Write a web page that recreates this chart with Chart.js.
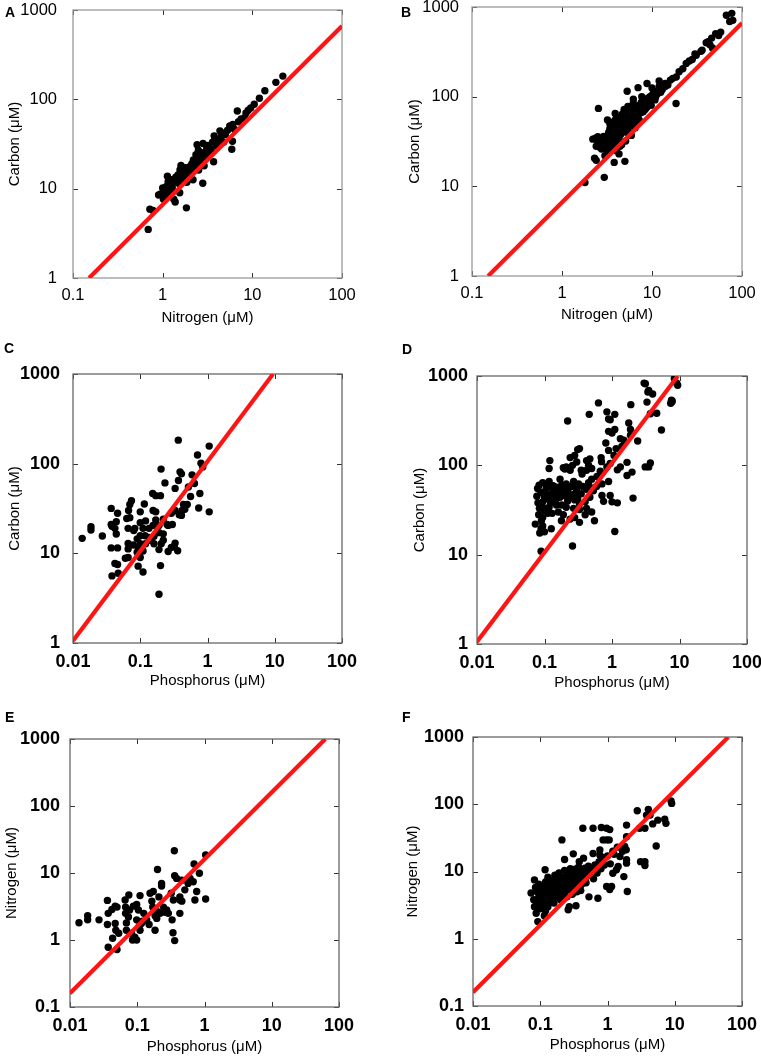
<!DOCTYPE html>
<html>
<head>
<meta charset="utf-8">
<script src="https://cdn.jsdelivr.net/npm/chart.js@4.4.1/dist/chart.umd.min.js"></script>
<style>
  html, body { margin: 0; padding: 0; background: #fff; }
  #page { position: relative; width: 761px; height: 1057px; overflow: hidden; font-family: "Liberation Sans", Arial, sans-serif; }
  canvas { position: absolute; }
  .tag { position: absolute; font-weight: bold; font-size: 14px; line-height: 14px; color: #000; }
</style>
</head>
<body>
<div id="page">
  <canvas id="pA" width="380" height="340" style="left:0;top:0"></canvas>
  <canvas id="pB" width="381" height="340" style="left:380px;top:0"></canvas>
  <canvas id="pC" width="380" height="360" style="left:0;top:340px"></canvas>
  <canvas id="pD" width="381" height="360" style="left:380px;top:340px"></canvas>
  <canvas id="pE" width="380" height="357" style="left:0;top:700px"></canvas>
  <canvas id="pF" width="381" height="357" style="left:380px;top:700px"></canvas>
  <div class="tag" style="left:5px;top:5px">A</div>
  <div class="tag" style="left:401px;top:5px">B</div>
  <div class="tag" style="left:4px;top:341px">C</div>
  <div class="tag" style="left:402px;top:342px">D</div>
  <div class="tag" style="left:5px;top:710px">E</div>
  <div class="tag" style="left:402px;top:710px">F</div>
</div>
<script>
// Tick values (decades)
const ticksN01 = [0.1, 1, 10, 100];
const ticksC1 = [1, 10, 100, 1000];
const ticksP001 = [0.01, 0.1, 1, 10, 100];
const ticksN0_1 = [0.1, 1, 10, 100, 1000];

// Redfield lines (C:N = 6.6, C:P = 106, N:P = 16)
const lineCN_x = [0.151, 100];
const lineCN_y = [1, 662];
const lineCP_x = [0.01, 9.43];
const lineCP_y = [1.06, 1000];
const lineNP_x = [0.01, 62.5];
const lineNP_y = [0.16, 1000];

// Panel A : Nitrogen vs Carbon
const aN = [0.69,0.72,0.78,0.90,0.95,1.00,1.02,1.05,1.08,1.10,1.13,1.15,1.18,1.20,1.25,1.28,1.33,1.38,1.40,1.42,
  1.48,1.52,1.55,1.56,1.60,1.62,1.65,1.70,1.72,1.76,1.80,1.84,1.86,1.90,1.95,2.00,2.02,2.08,2.12,2.18,
  2.20,2.25,2.30,2.35,2.38,2.42,2.45,2.50,2.52,2.58,2.62,2.70,2.72,2.80,2.82,2.90,2.92,3.00,3.10,3.20,
  3.30,3.40,3.50,3.60,3.70,3.75,3.82,4.00,4.05,4.20,4.35,4.50,4.60,4.80,5.00,5.30,5.60,5.90,6.00,6.05,
  6.30,6.80,7.00,7.50,8.20,8.50,9.00,9.60,10.5,12.0,13.8,18.3,21.9,1.30,1.45,1.68,2.15,1.22,2.65,3.05];
const aC = [3.5,5.9,5.7,8.5,8.7,10.2,7.6,9.4,8.2,10.6,13.8,12.0,9.8,11.2,12.6,10.3,7.6,7.1,13.4,11.8,
  14.2,11.4,9.0,16.2,18.2,13.2,15.0,12.2,16.5,14.4,17.2,6.1,11.8,13.0,16.0,17.6,14.0,15.2,19.0,12.6,
  21.0,16.8,18.2,24.0,20.4,31.0,22.2,27.0,16.2,20.0,23.4,25.2,21.2,11.5,32.0,18.0,25.0,22.4,28.2,30.4,
  24.2,28.0,26.2,33.2,20.0,39.0,36.2,30.2,32.4,35.2,44.4,38.2,42.0,33.2,40.4,45.2,50.2,27.6,34.0,52.4,
  46.2,74.0,56.2,60.4,62.2,70.2,75.4,80.2,88.2,103,125,155,182,12.1,12.9,15.6,16.5,9.2,19.0,26.0];

// Panel B : Nitrogen vs Carbon
const bN = [1.8,2.95,2.54,5.3,6.2,2.3,2.4,2.2,2.5,2.35,2.6,2.75,3.2,3.4,3.8,4.3,5.0,5.9,6.9,7.0,
  8.8,18.5,16,18.6,20,24,26,30,31,42,46,51,58,47,67,77,79,73,44,36,
  28,22,12,14,10,9.5,11,13,15,17,35,40,55,9,3.0,2.9,
  3.0,3.1,3.2,3.3,3.3,3.4,3.5,3.5,3.6,3.7,3.7,3.8,3.8,3.9,3.9,4.0,4.0,4.1,4.1,4.2,
  4.2,4.3,4.3,4.4,4.4,4.5,4.5,4.6,4.6,4.7,4.8,4.8,4.9,5.0,5.0,5.1,5.2,5.2,5.3,5.4,
  5.5,5.5,5.6,5.7,5.8,5.8,6.0,6.0,6.2,6.3,6.4,6.5,6.6,6.8,7.0,7.2,7.3,7.5,7.6,7.8,
  8.0,8.0,8.3,8.5,8.8,9.0,9.2,9.6,10,10.2,10.5,11,11.5,12,12.5,13,14,4.6,5.1,3.6,
  4.0,5.6,6.5,7.2,3.2,2.8,3.9,4.9,5.4,6.2,4.2,4.7,3.4,5.9,6.9,8.4,9.8,10.8,7.7,
  2.4,2.6,2.7,2.9,3.1,3.4,3.6,4.4,2.5,2.8];
const bC = [11,12.6,74,115,94,20.6,19.5,33.6,35.8,34.5,27.5,26,55,50,18.5,23,19,37,51.5,126,
  140,84,153,166,190,235,250,300,290,410,450,505,525,350,810,850,710,690,380,330,
  260,205,150,140,125,100,110,120,135,160,320,400,480,85,22,31,
  28,32,35,30,40,44,38,48,33,42,52,36,46,40,55,30,44,50,38,47,
  58,34,42,52,45,38,60,49,55,42,58,46,52,44,62,50,56,40,66,52,
  46,60,70,55,48,64,58,72,52,66,60,76,56,68,62,80,70,66,86,74,
  68,92,80,88,76,96,82,90,104,95,115,100,108,130,112,125,130,29,32,26,
  25,40,45,55,24,29,65,72,78,85,36,64,36,50,60,72,80,92,100,
  28,31,33,36,26,29,40,28,30,34];

// Panel C : Phosphorus vs Carbon
const cP = [0.368,1.06,0.71,0.80,0.85,0.204,0.39,0.41,0.59,0.233,0.37,0.33,0.52,0.77,0.56,0.153,0.17,0.20,0.074,0.07,
  0.115,0.44,0.46,0.74,1.06,0.037,0.046,0.067,0.07,0.10,0.155,0.17,0.33,0.38,0.29,0.22,0.17,0.41,0.0185,0.0185,
  0.0137,0.0273,0.037,0.038,0.044,0.042,0.044,0.063,0.066,0.08,0.083,0.10,0.11,0.12,0.135,0.155,0.19,0.26,0.19,0.22,
  0.16,0.135,0.118,0.10,0.09,0.10,0.094,0.079,0.066,0.037,0.046,0.066,0.09,0.11,0.12,0.16,0.205,0.19,0.26,0.29,
  0.32,0.33,0.36,0.06,0.066,0.10,0.042,0.046,0.038,0.047,0.093,0.11,0.2,0.19,0.25,0.3,0.64,0.5,0.42,0.22,0.14];
const cC = [183,157,125,101,92,87,81,77,75,61,65,53,55,46.5,43,46.5,44,44,38.6,35,
  35.5,35,31,32,29,31.7,28,30,25,29,30,29,30,27,28,24,23.5,26.5,19.8,18.2,
  14.7,15.6,21,20,22.5,19,16.4,24.5,19,18,19,22,19,23,19,20.5,20.5,20.5,17,16.5,
  15.5,15,15.7,15.7,14.5,12.8,11.5,12.4,12.9,11.5,11.5,11.2,10.3,10.6,12.8,12.8,12.8,11,10.5,11.6,
  12,13,10.7,8.8,9,9,7.7,7.5,5.6,6.0,7.2,6.2,7.3,3.5,21,21,60,35,30,14,14];

// Panel D : Phosphorus vs Carbon
const dP = [2.99,3.12,3.5,3.4,4.0,8.4,9.4,7.6,7.7,3.3,0.63,1.9,0.46,0.22,0.84,1.1,0.89,0.94,1.77,3.7,
  5.4,1.0,0.89,1.1,1.88,1.88,1.33,1.5,2.4,0.81,0.89,1.15,1.4,1.07,0.69,0.33,0.28,0.24,0.12,0.117,
  0.19,0.21,0.3,0.42,0.47,0.35,0.42,0.5,0.67,0.84,0.94,1.2,1.33,1.67,1.67,1.98,3.1,3.5,3.7,2.05,
  0.94,1.0,0.71,0.75,1.2,0.55,1.1,0.26,0.089,0.073,0.089,0.1,0.094,0.126,0.178,
  0.079,0.083,0.094,0.117,0.17,0.2,0.24,0.27,0.32,0.37,0.45,0.5,0.53,0.47,0.35,0.3,0.25,0.21,0.18,0.15,
  0.126,0.106,0.089,0.1,0.117,0.141,0.17,0.2,0.24,0.28,0.33,0.4,0.42,0.33,0.27,0.21,0.18,0.15,0.117,0.094,
  0.094,0.112,0.13,0.16,0.19,0.24,0.28,0.33,0.4,0.5,0.084,0.094,0.134,0.16,0.19,0.22,0.134,0.106,0.27,0.21,
  0.42,0.5,0.59,0.71,0.89,9.1,7.4,7.8,4.6,0.31,0.077,0.08,0.082,0.085,0.09,0.26,0.36,0.45,0.6,0.7,
  0.11,0.12,0.14,0.15,0.17,0.19,0.22,0.25,0.29,0.31,0.14,0.16,0.23,0.26,0.1,0.13];
const dC = [833,820,690,663,630,935,787,535,510,510,500,478,372,313,397,372,330,324,298,378,
  249,230,240,252,252,217,199,191,187,178,147,154,163,129,122,154,129,122,113,92,
  94,96,109,113,118,88,88,92,86,96,105,89,96,108,77,84,96,96,106,43,
  46,39,46,39.5,38,24,18.2,12.5,10.9,22,19.5,18,21,19.5,24,
  55,60,64,66,70,91,88,66,62,58,64,56,52,44,48,55,58,60,60,57,
  57,55,50,44,42,41,44,46,44,41,37,39,33,32,33,34,36,36,34,34,
  39,29,29,30,28,25,26,23,28,30,33,26,50,52,52,50,59,61,60,62,
  54,70,58,62,66,830,496,525,383,150,45,38,28,17.5,24,100,80,100,75,110,
  47,40,48,42,50,46,40,44,49,42,38,54,56,47,31,48];

// Panel E : Phosphorus vs Nitrogen
const eP = [0.0136,0.0183,0.0183,0.027,0.036,0.036,0.037,0.037,0.042,0.043,0.047,0.047,0.048,0.05,0.05,0.053,0.066,0.067,0.067,0.069,
  0.069,0.074,0.075,0.077,0.082,0.085,0.0875,0.098,0.098,0.098,0.104,0.107,0.11,0.11,0.115,0.125,0.138,0.155,0.165,0.17,
  0.173,0.184,0.184,0.195,0.2,0.2,0.21,0.218,0.23,0.23,0.245,0.274,0.29,0.32,0.33,0.34,0.344,0.36,0.356,0.36,
  0.385,0.43,0.46,0.43,0.43,0.46,0.51,0.57,0.61,0.68,0.70,0.765,0.72,0.84,1.04,1.04,0.092,0.12,0.15,0.26];
const eN = [1.81,2.3,2.0,2.0,3.9,1.7,0.78,2.5,2.85,1.06,3.2,1.77,1.4,0.72,3.1,1.26,3.95,3.1,2.5,1.8,
  1.4,2.2,4.7,2.8,1.26,1.0,3.2,3.4,2.0,1.0,2.8,1.6,1.4,4.6,1.77,2.5,2.0,4.98,3.8,3.1,
  5.3,2.3,1.4,2.1,11.3,2.65,4.4,2.5,7.0,6.4,3.1,2.8,2.5,5.0,2.0,1.28,3.95,0.98,21.5,9.1,
  8.3,3.95,3.8,4.4,2.5,7.8,5.6,7.0,8.3,7.4,13.6,5.3,3.95,9.9,18.6,4.1,1.1,1.9,1.7,2.6];

// Panel F : Phosphorus vs Nitrogen
const fP = [9.0,8.8,2.77,4.05,3.8,4.3,5.6,7.1,7.4,4.7,3.6,3.0,5.3,3.1,3.6,3.6,1.92,1.92,1.8,1.67,
  1.9,1.92,1.92,1.97,1.75,1.53,1.44,1.36,1.2,1.15,0.97,1.08,0.72,0.53,0.43,0.61,0.81,0.97,1.08,0.86,
  0.97,1.06,0.77,1.2,1.4,0.77,0.61,0.44,0.38,0.31,0.21,0.23,0.155,0.118,0.082,0.073,0.08,0.082,0.087,0.092,
  0.1,0.27,0.26,0.34,0.49,0.43,
  0.09,0.095,0.1,0.1,0.105,0.11,0.11,0.115,0.12,0.12,0.125,0.13,0.13,0.135,0.14,0.14,0.145,0.15,0.15,0.16,
  0.16,0.165,0.17,0.17,0.18,0.18,0.19,0.19,0.2,0.2,0.21,0.21,0.22,0.22,0.23,0.23,0.24,0.25,0.25,0.26,
  0.27,0.27,0.28,0.29,0.3,0.3,0.31,0.32,0.33,0.34,0.35,0.36,0.37,0.38,0.4,0.4,0.42,0.44,0.46,0.48,
  0.5,0.52,0.55,0.58,0.62,0.65,0.7,0.75,0.8,0.85,0.9,1.0,1.1,1.25,0.12,0.115,0.09,0.085,0.095,0.13,
  0.16,0.2,0.25,0.3,0.35,0.4];
const fN = [103,112,80,84,69,69,58,60,52,51,44,44,24,14,14,12.3,49,33,23.5,20,
  21,15,13.3,5.05,8.4,16.7,11.9,10.6,9.4,6.0,6.0,5.4,4.0,4.2,44,44,45,44,42,29.5,
  29.5,29.5,21,20,23,17.6,18.5,15.8,14,18.3,29.5,15.1,7.5,10.6,7.5,4.8,3.8,3.0,2.4,1.8,
  2.8,3.0,2.7,3.1,8.4,6.7,
  5.0,4.2,5.5,3.6,6.2,4.6,3.2,5.2,7.0,4.0,5.8,4.8,8.2,3.5,6.2,4.4,5.4,7.2,3.9,6.0,
  4.8,8.8,5.4,4.2,6.6,7.8,5.0,9.5,6.2,4.4,7.0,5.6,8.2,6.4,10.4,5.0,7.4,6.0,9.0,7.0,
  8.2,5.4,11.0,6.6,9.4,7.6,5.8,8.6,10.8,6.8,9.2,7.4,11.6,8.4,6.2,10.2,7.6,9.4,11.2,6.8,
  9.8,12,8.8,10.5,7.8,12.5,9.5,14,11,16,12.5,17,13,18,2.6,2.2,3.2,5.8,6.5,3.0,
  3.4,3.8,4.2,4.6,5.0,5.2];

const FONT = '"Liberation Sans", Arial, sans-serif';

function pairs(xs, ys) {
    return xs.map((v, i) => ({ x: v, y: ys[i] }));
}

// Cadre gris + petites graduations vers l'intérieur (dessiné après tout le reste)
function makeFrame(boxColor) {
    return {
        id: 'boxTicks',
        afterDraw(chart) {
            const ctx = chart.ctx;
            const a = chart.chartArea;
            const xs = chart.scales.x;
            const ys = chart.scales.y;
            ctx.save();
            ctx.globalCompositeOperation = 'destination-over';
            ctx.strokeStyle = boxColor;
            ctx.lineWidth = 1.3;
            ctx.strokeRect(a.left, a.top, a.right - a.left, a.bottom - a.top);
            ctx.strokeStyle = '#333';
            ctx.lineWidth = 1;
            ctx.beginPath();
            xs.ticks.forEach(t => {
                const px = Math.round(xs.getPixelForValue(t.value)) + 0.5;
                ctx.moveTo(px, a.bottom); ctx.lineTo(px, a.bottom - 5);
                ctx.moveTo(px, a.top); ctx.lineTo(px, a.top + 5);
            });
            ys.ticks.forEach(t => {
                const py = Math.round(ys.getPixelForValue(t.value)) + 0.5;
                ctx.moveTo(a.left, py); ctx.lineTo(a.left + 5, py);
                ctx.moveTo(a.right, py); ctx.lineTo(a.right - 5, py);
            });
            ctx.stroke();
            ctx.restore();
        }
    };
}

function makePanel(id, p) {
    const tickFont = { family: FONT, size: p.bold ? 18 : 16.5, weight: p.bold ? 'bold' : 'normal' };
    const titleFont = { family: FONT, size: 15 };
    return new Chart(document.getElementById(id), {
        type: 'scatter',
        data: {
            datasets: [{
                type: 'line',
                data: pairs(p.lineX, p.lineY),
                borderColor: 'rgb(255,20,20)',
                borderWidth: 4.2,
                pointRadius: 0,
                fill: false
            }, {
                data: pairs(p.xs, p.ys),
                backgroundColor: '#000',
                borderWidth: 0,
                pointRadius: 3.7
            }]
        },
        options: {
            responsive: false,
            animation: false,
            layout: { padding: { left: 0, top: p.padTop, right: p.padRight, bottom: 0 } },
            plugins: {
                legend: { display: false },
                tooltip: { enabled: false }
            },
            scales: {
                x: {
                    type: 'logarithmic',
                    min: p.xTicks[0],
                    max: p.xTicks[p.xTicks.length - 1],
                    grid: { display: false },
                    border: { display: false },
                    afterBuildTicks: s => { s.ticks = p.xTicks.map(v => ({ value: v })); },
                    afterFit: s => {
                        s.height = p.xh;
                        s.paddingLeft = 0; s.paddingRight = 0;
                    },
                    ticks: {
                        autoSkip: false, maxRotation: 0, padding: 0,
                        color: '#000', font: tickFont,
                        callback: v => String(v)
                    },
                    title: {
                        display: true, text: p.xTitle, color: '#000', font: titleFont,
                        padding: { top: 0, bottom: p.xTitlePad }
                    }
                },
                y: {
                    type: 'logarithmic',
                    min: p.yTicks[0],
                    max: p.yTicks[p.yTicks.length - 1],
                    grid: { display: false },
                    border: { display: false },
                    afterBuildTicks: s => { s.ticks = p.yTicks.map(v => ({ value: v })); },
                    afterFit: s => {
                        s.width = p.yw;
                        s.paddingTop = 0; s.paddingBottom = 0;
                    },
                    ticks: {
                        autoSkip: false, padding: p.yTickPad,
                        color: '#000', font: tickFont,
                        callback: v => String(v)
                    },
                    title: {
                        display: true, text: p.yTitle, color: '#000', font: titleFont,
                        padding: { top: p.yTitlePad, bottom: 0 }
                    }
                }
            }
        },
        plugins: [makeFrame(p.bold ? '#666' : '#999')]
    });
}

const NT = 'Nitrogen (\u03bcM)';
const CT = 'Carbon (\u03bcM)';
const PT = 'Phosphorus (\u03bcM)';

makePanel('pA', { xs: aN, ys: aC, lineX: lineCN_x, lineY: lineCN_y, xTicks: ticksN01, yTicks: ticksC1,
    xTitle: NT, yTitle: CT, bold: false, yw: 73, xh: 62, padTop: 10, padRight: 38, yTickPad: 8, xTitlePad: 13, yTitlePad: 6 });
makePanel('pB', { xs: bN, ys: bC, lineX: lineCN_x, lineY: lineCN_y, xTicks: ticksN01, yTicks: ticksC1,
    xTitle: NT, yTitle: CT, bold: false, yw: 92, xh: 64, padTop: 7, padRight: 19, yTickPad: 5, xTitlePad: 16, yTitlePad: 26 });
makePanel('pC', { xs: cP, ys: cC, lineX: lineCP_x, lineY: lineCP_y, xTicks: ticksP001, yTicks: ticksC1,
    xTitle: PT, yTitle: CT, bold: true, yw: 73, xh: 57, padTop: 34, padRight: 38, yTickPad: 5, xTitlePad: 10, yTitlePad: 6 });
makePanel('pD', { xs: dP, ys: dC, lineX: lineCP_x, lineY: lineCP_y, xTicks: ticksP001, yTicks: ticksC1,
    xTitle: PT, yTitle: CT, bold: true, yw: 97, xh: 56, padTop: 36, padRight: 14, yTickPad: 1, xTitlePad: 8, yTitlePad: 31 });
makePanel('pE', { xs: eP, ys: eN, lineX: lineNP_x, lineY: lineNP_y, xTicks: ticksP001, yTicks: ticksN0_1,
    xTitle: PT, yTitle: NT, bold: true, yw: 70, xh: 50, padTop: 39, padRight: 41, yTickPad: 2, xTitlePad: 1, yTitlePad: 3 });
makePanel('pF', { xs: fP, ys: fN, lineX: lineNP_x, lineY: lineNP_y, xTicks: ticksP001, yTicks: ticksN0_1,
    xTitle: PT, yTitle: NT, bold: true, yw: 93, xh: 51, padTop: 37, padRight: 19, yTickPad: 1, xTitlePad: 3, yTitlePad: 24 });
</script>
</body>
</html>
